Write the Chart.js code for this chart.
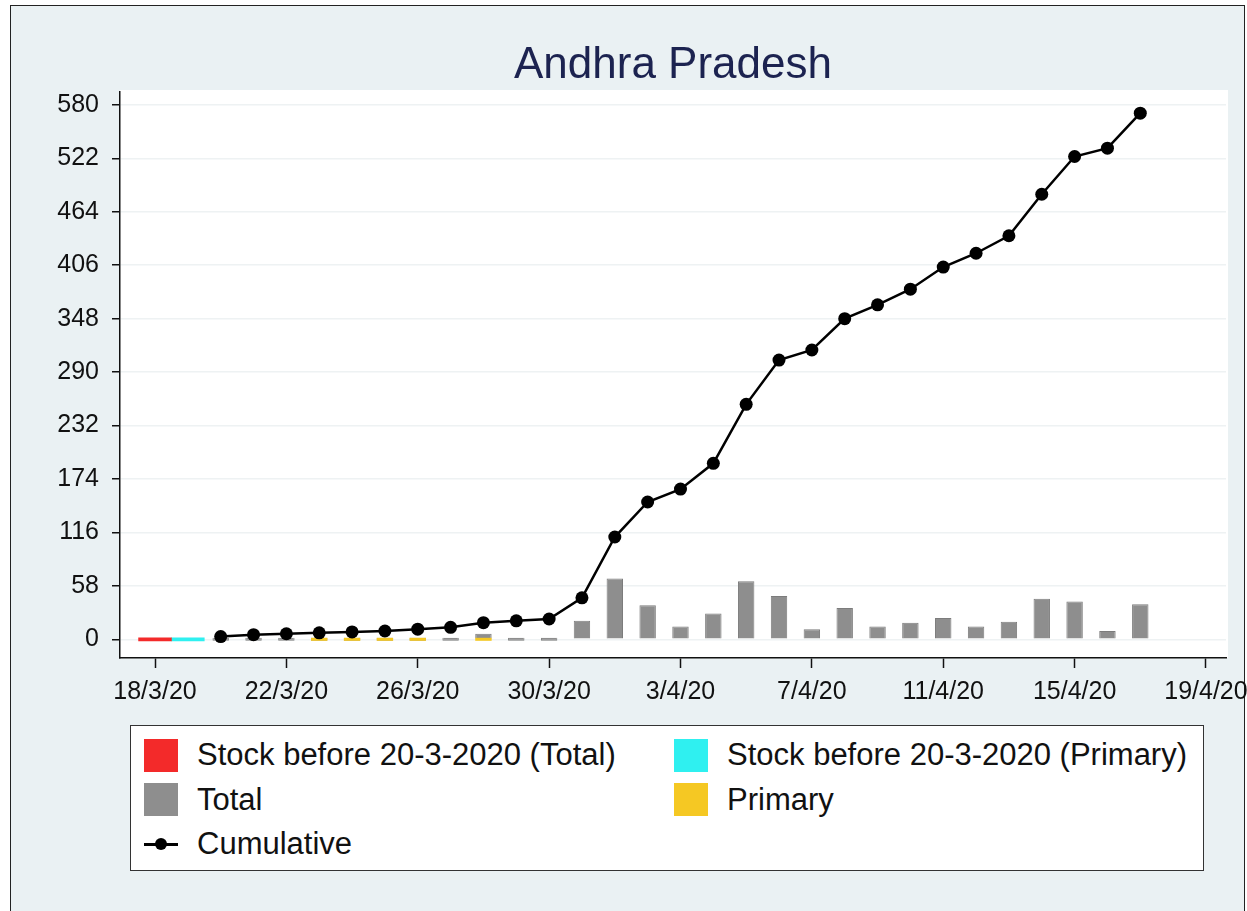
<!DOCTYPE html>
<html>
<head>
<meta charset="utf-8">
<title>Andhra Pradesh</title>
<script src="https://cdn.jsdelivr.net/npm/chart.js@4.4.1/dist/chart.umd.min.js"></script>
<style>
  html, body { margin: 0; padding: 0; background: #fff; overflow: hidden; }
  body { font-family: "Liberation Sans", Arial, sans-serif; }
  #frame { position: absolute; left: 10px; top: 5px; width: 1235px; height: 930px;
           border: 1px solid #222; background: #eaf1f3; box-sizing: border-box; }
  #wrap { position: absolute; left: 0; top: 0; width: 1247px; height: 911px; }
  #legend { position: absolute; left: 130px; top: 725px; width: 1074px; height: 146px;
            box-sizing: border-box; border: 1px solid #333; background: #fff;
            display: grid; grid-template-columns: 530px 1fr; grid-auto-rows: 44.5px;
            padding: 7px 0 0 13px; font-size: 31px; color: #111; }
  .item { display: flex; align-items: center; white-space: nowrap; }
  .box { width: 34px; height: 33px; margin-right: 19px; flex: none; }
  .sym { width: 34px; height: 14px; margin-right: 19px; flex: none; position: relative; }
  .sym:before { content: ""; position: absolute; left: 0; right: 0; top: 6px; height: 2.5px; background: #000; }
  .sym:after { content: ""; position: absolute; left: 11px; top: 1px; width: 12px; height: 12px; border-radius: 50%; background: #000; }
</style>
</head>
<body>
<div id="frame"></div>
<div id="wrap"><canvas id="chart"></canvas></div>
<div id="legend"></div>
<script>
// daily series, 20/3 .. 17/4
const dates = ['20/3', '21/3', '22/3', '23/3', '24/3', '25/3', '26/3', '27/3', '28/3', '29/3', '30/3', '31/3',
    '1/4', '2/4', '3/4', '4/4', '5/4', '6/4', '7/4', '8/4', '9/4', '10/4', '11/4', '12/4', '13/4', '14/4',
    '15/4', '16/4', '17/4'];
const totalValues = [0, 0, 0, 0, 0, 0, 0, 0, 6, 0, 0, 20,
    66, 37, 14, 28, 63, 47, 11, 34, 14, 18, 23, 14, 19, 44,
    41, 9, 38];
const primaryValues = [null, null, null, 0, 0, 0, 0, null, 0, null, null, null,
    null, null, null, null, null, null, null, null, null, null, null, null, null, null,
    null, null, null];
const cumulativeValues = [3, 5, 6, 7, 8, 9, 11, 13, 18, 20, 22, 45,
    111, 149, 163, 191, 255, 303, 314, 348, 363, 380, 404, 419, 438, 483,
    524, 533, 571];

// stock before 20-3-2020
const stockTotalDates = ['18/3'];
const stockTotalValues = [0];
const stockPrimaryDates = ['19/3'];
const stockPrimaryValues = [0];

const yTicks = [0, 58, 116, 174, 232, 290, 348, 406, 464, 522, 580];
const xTickLabels = ['18/3/20', '22/3/20', '26/3/20', '30/3/20', '3/4/20', '7/4/20', '11/4/20', '15/4/20', '19/4/20'];

// days counted from 18 March
function dayIndex(d) {
    const [dd, mm] = d.split('/').map(Number);
    return mm === 3 ? dd - 18 : dd + 13;
}
function points(ds, vals) {
    return ds.map((d, i) => ({ x: dayIndex(d), y: vals[i] }));
}
const xTicks = xTickLabels.map(dayIndex);

const FONT = '"Liberation Sans", Arial, sans-serif';

const plotBg = {
    id: 'plotBg',
    beforeDraw(chart) {
        const a = chart.chartArea, ctx = chart.ctx;
        ctx.save();
        ctx.fillStyle = '#ffffff';
        ctx.fillRect(a.left, a.top - 2, a.right - a.left + 2, a.bottom - a.top + 2);
        ctx.restore();
    }
};

const chart = new Chart(document.getElementById('chart'), {
    type: 'bar',
    data: {
        datasets: [
            {
                label: 'Stock before 20-3-2020 (Total)',
                data: points(stockTotalDates, stockTotalValues),
                backgroundColor: '#f32a2a', borderWidth: 0,
                grouped: false, categoryPercentage: 1, barPercentage: 1, minBarLength: 3, order: 3
            },
            {
                label: 'Stock before 20-3-2020 (Primary)',
                data: points(stockPrimaryDates, stockPrimaryValues),
                backgroundColor: '#2ff0f0', borderWidth: 0,
                grouped: false, categoryPercentage: 1, barPercentage: 1, minBarLength: 3, order: 3
            },
            {
                label: 'Total',
                data: points(dates, totalValues),
                backgroundColor: '#8e8e8e', borderColor: '#7c7c7c', borderWidth: 1,
                grouped: false, categoryPercentage: 1, barPercentage: 0.5, minBarLength: 3, order: 2
            },
            {
                label: 'Primary',
                data: points(dates, primaryValues),
                backgroundColor: '#f5c823', borderWidth: 0,
                grouped: false, categoryPercentage: 1, barPercentage: 0.5, minBarLength: 3, order: 1
            },
            {
                type: 'line',
                label: 'Cumulative',
                data: points(dates, cumulativeValues),
                borderColor: '#000', backgroundColor: '#000', borderWidth: 2.5,
                pointRadius: 6.5, pointBackgroundColor: '#000', pointBorderWidth: 0,
                tension: 0, order: 0
            }
        ]
    },
    options: {
        responsive: true,
        maintainAspectRatio: false,
        animation: false,
        layout: { padding: { left: 0, right: 21, top: 0, bottom: 203 } },
        plugins: {
            legend: { display: false },
            tooltip: { enabled: false },
            title: {
                display: true,
                fullSize: false, // centre over the plot area, not the canvas
                text: 'Andhra Pradesh',
                color: '#1c2350',
                font: { family: FONT, size: 44, weight: 'normal' },
                padding: { top: 39, bottom: 0.2 }
            }
        },
        scales: {
            x: {
                type: 'linear',
                min: -1.066,
                max: 32.61,
                offset: false,
                afterFit: (s) => { s.height = 50; s.paddingLeft = 0; s.paddingRight = 0; },
                afterBuildTicks: (s) => { s.ticks = xTicks.map(v => ({ value: v })); },
                ticks: {
                    color: '#111',
                    font: { family: FONT, size: 25 },
                    padding: 9,
                    maxRotation: 0,
                    autoSkip: false,
                    callback: (v, i) => xTickLabels[i]
                },
                grid: { offset: false, drawOnChartArea: false, tickLength: 10, tickColor: '#111', tickWidth: 1.5 },
                border: { color: '#111', width: 1.5 }
            },
            y: {
                min: -20.3,
                max: 594,
                afterFit: (s) => { s.width = 120; s.paddingTop = 0; s.paddingBottom = 0; },
                afterBuildTicks: (s) => { s.ticks = yTicks.map(v => ({ value: v })); },
                ticks: {
                    color: '#111',
                    font: { family: FONT, size: 25 },
                    padding: 13
                },
                grid: { color: '#eef2f3', lineWidth: 1.5, tickLength: 8, tickColor: '#111', tickWidth: 1.5 },
                border: { color: '#111', width: 1.5 }
            }
        }
    },
    plugins: [plotBg]
});

// legend built from the datasets
const legend = document.getElementById('legend');
chart.data.datasets.forEach(ds => {
    const item = document.createElement('div');
    item.className = 'item';
    const mark = document.createElement('span');
    if (ds.type === 'line') {
        mark.className = 'sym';
    } else {
        mark.className = 'box';
        mark.style.background = ds.backgroundColor;
    }
    const txt = document.createElement('span');
    txt.textContent = ds.label;
    item.appendChild(mark);
    item.appendChild(txt);
    legend.appendChild(item);
});
</script>
</body>
</html>
